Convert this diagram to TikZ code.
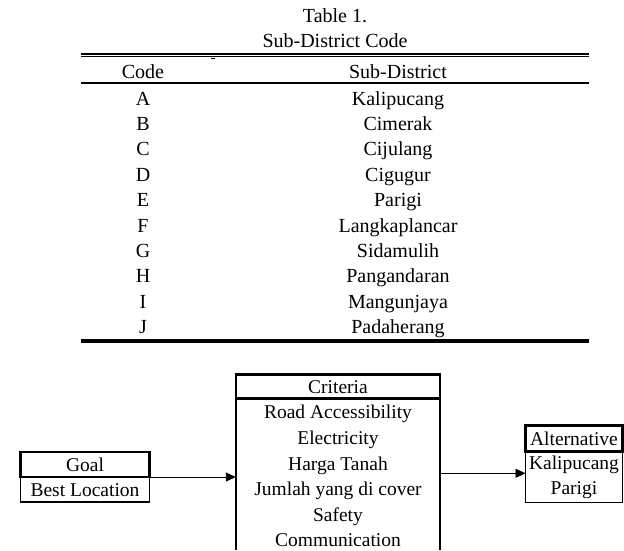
\documentclass[tikz,border=0pt]{standalone}
\usepackage{fontspec}
\setmainfont{Liberation Serif}
\usetikzlibrary{arrows.meta}
\begin{document}
\begin{tikzpicture}[x=1pt,y=-1pt,
  tbl/.style={font=\fontsize{20}{24}\selectfont, inner sep=0pt, anchor=base},
  dtxt/.style={font=\fontsize{19.5}{23}\selectfont, inner sep=0pt, anchor=base},
  hbox/.style={draw, line width=2.5pt, inner sep=0pt, outer sep=0pt, anchor=north west},
  ibox/.style={draw, line width=1.8pt, inner sep=0pt, outer sep=0pt, anchor=north west},
  side/.style={line width=2.5pt},
  conn/.style={line width=0.9pt, -{Triangle[length=10pt,width=9pt]}},
]
\useasboundingbox (0,0) rectangle (624,550);

% ---------- Table ----------
\node[tbl] (ttl1) at (335,22) {Table 1.};
\node[tbl] (ttl2) at (335,47) {Sub-District Code};
\draw[line width=2pt] (81,53.7) -- (589,53.7);
\draw[line width=1pt] (81,56.4) -- (589,56.4);
\draw[line width=1.2pt] (211,58.6) -- (215,58.6);
\node[tbl] (hcode) at (143,78) {Code};
\node[tbl] (hsub) at (398,78) {Sub-District};
\draw[line width=1.4pt] (81,83) -- (589,83);
\foreach \c/\n [count=\i from 0] in {A/Kalipucang,B/Cimerak,C/Cijulang,D/Cigugur,E/Parigi,F/Langkaplancar,G/Sidamulih,H/Pangandaran,I/Mangunjaya,J/Padaherang}{
  \node[tbl] (code\i) at (143,{105+25.4*\i}) {\c};
  \node[tbl] (name\i) at (398,{105+25.4*\i}) {\n};
}
\draw[line width=3.5pt] (81,341) -- (589,341);

% ---------- Diagram ----------
% Goal
\node[hbox, minimum width=129pt, minimum height=25pt] (goal) at (20.5,452) {};
\node[ibox, minimum width=129pt, minimum height=25pt] (best) at (20.5,477) {};
\node[dtxt] (goaltxt) at (85,471) {Goal};
\node[dtxt] (besttxt) at (85,496.5) {Best Location};

% Criteria
\node[hbox, minimum width=204.2pt, minimum height=24pt] (crit) at (235.8,374.5) {};
\node[inner sep=0pt, outer sep=0pt, anchor=north west, minimum width=204.2pt, minimum height=151.5pt] (critlist) at (235.8,398.5) {};
\draw[side] (critlist.north west) -- (critlist.south west);
\draw[side] (critlist.north east) -- (critlist.south east);
\node[dtxt] (crittxt) at (338,393) {Criteria};
\foreach \t/\yy [count=\k] in {Road Accessibility/418.5,Electricity/444.5,Harga Tanah/470,Jumlah yang di cover/495.5,Safety/521,Communication/546.5}{
  \node[dtxt] (crit\k) at (338,\yy) {\t};
}

% Alternative
\node[hbox, minimum width=97pt, minimum height=26pt] (alt) at (525.5,425.3) {};
\node[ibox, minimum width=97pt, minimum height=51.2pt] (kp) at (525.5,451.3) {};
\node[dtxt] (alttxt) at (574,445) {Alternative};
\node[dtxt] (kal) at (574,469.5) {Kalipucang};
\node[dtxt] (par) at (574,494.5) {Parigi};

% Connectors
\draw[conn] (goal.south east) -- (goal.south east -| critlist.west);
\coordinate (r1) at (440,473.3);
\draw[conn] (r1) -- (r1 -| kp.west);
\end{tikzpicture}
\end{document}
